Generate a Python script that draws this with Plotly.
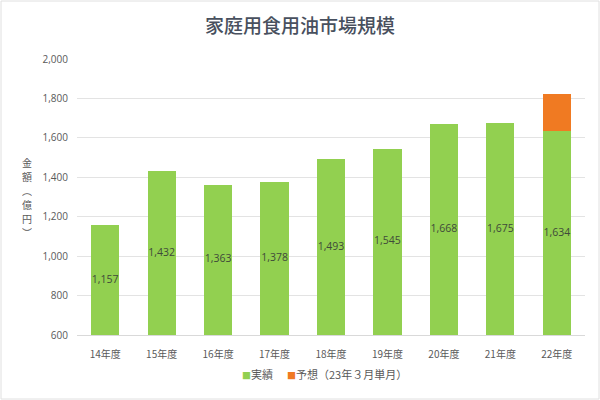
import plotly.graph_objects as go

categories = ["14年度", "15年度", "16年度", "17年度", "18年度", "19年度", "20年度", "21年度", "22年度"]
actual = [1157, 1432, 1363, 1378, 1493, 1545, 1668, 1675, 1634]
forecast = [None, None, None, None, None, None, None, None, 190]
y_ticks = [600, 800, 1000, 1200, 1400, 1600, 1800, 2000]
axis_min = 600

FONT = "Noto Sans CJK JP"
fig = go.Figure()
fig.add_trace(go.Bar(
    x=categories, y=actual, name="実績",
    marker=dict(color="#92D050", line=dict(width=0)),
))
fig.add_trace(go.Bar(
    x=categories, y=forecast, name="予想（23年３月単月）",
    marker=dict(color="#F07A22", line=dict(width=0)),
))
# value labels centred in the visible part of each green bar
fig.add_trace(go.Scatter(
    x=categories, y=[(axis_min + v) / 2 for v in actual], mode="text",
    text=[f"{v:,}" for v in actual], textposition="middle center",
    textfont=dict(color="#3F4A3A", size=10.5, family="Open Sans"),
    showlegend=False, hoverinfo="skip",
))

L, R, T, B = 77, 15, 59, 65
pw, ph = 600 - L - R, 400 - T - B
fig.update_layout(
    width=600, height=400,
    barmode="stack", bargap=0.5,
    paper_bgcolor="white", plot_bgcolor="white",
    margin=dict(l=L, r=R, t=T, b=B),
    font=dict(family=FONT, color="#595959", size=10),
    title=dict(text="家庭用食用油市場規模", x=0.5, xanchor="center", y=0.935, yanchor="middle",
               font=dict(size=19, color="#48505E", family=FONT, weight=500)),
    showlegend=False,
    xaxis=dict(showgrid=False, showline=True, linecolor="#D9D9D9", ticks="",
               tickfont=dict(size=10, color="#595959"), ticklabelstandoff=10),
    yaxis=dict(range=[axis_min, 2000], tickvals=y_ticks, ticktext=[f"{v:,}" for v in y_ticks],
               showgrid=True, gridcolor="#E3E3E3", zeroline=False, ticks="",
               tickfont=dict(size=10, color="#595959", family="Open Sans"), ticklabelstandoff=8),
)
# vertical axis title, one character per line
chars = ["金", "額", "︵", "億", "円", "︶"]
for i, ch in enumerate(chars):
    py = 162 + i * 14
    fig.add_annotation(text=ch, xref="paper", yref="paper",
                       x=(27 - L) / pw, y=1 - (py - T) / ph, xanchor="center", yanchor="middle",
                       showarrow=False, height=13, font=dict(size=10, color="#595959"))
# legend drawn as text with coloured squares
legend_items = [("実績", "#92D050", 240), ("予想（23年３月単月）", "#F07A22", 285)]
for name, color, px in legend_items:
    fig.add_annotation(text=f"<span style='color:{color};font-size:9px'>■</span>{name}",
                       xref="paper", yref="paper", x=(px - L) / pw, y=1 - (374 - T) / ph,
                       xanchor="left", yanchor="middle", showarrow=False,
                       font=dict(size=11, color="#595959"))
fig.add_shape(type="rect", xref="paper", yref="paper",
              x0=-(L - 1) / pw, x1=1 + (R - 1) / pw, y0=-(B - 1) / ph, y1=1 + (T - 1) / ph,
              line=dict(color="#E0E0E0", width=1))
fig.write_html("out.html")
